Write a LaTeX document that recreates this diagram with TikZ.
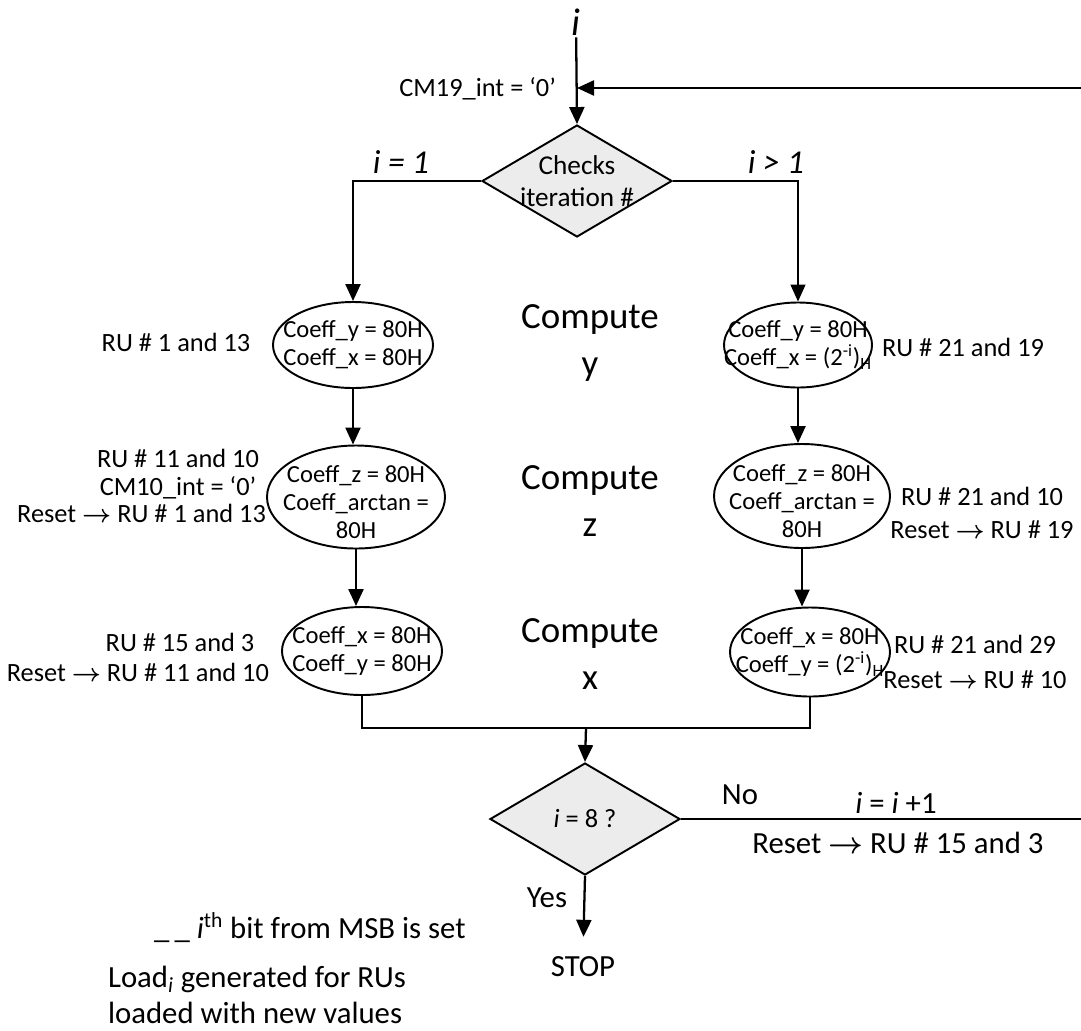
\documentclass[tikz,border=0pt]{standalone}
\usepackage{amsmath,amssymb}
\usepackage{fontspec}
\setmainfont{Carlito}
\usepackage{tikz}
\usetikzlibrary{arrows.meta,positioning,calc,shapes.geometric}
\newcommand{\toarr}{$\boldsymbol{\rightarrow}$}
\tikzset{
  cf/.style={draw, ellipse, line width=1.1pt, inner sep=0pt},
  cft/.style={font=\fontsize{14}{16}\selectfont, align=center, inner sep=0pt},
  chk/.style={draw, diamond, fill=gray!15, line width=1.1pt, inner sep=0pt, minimum width=38mm, minimum height=22.4mm},
  lbl/.style={font=\fontsize{15}{16}\selectfont, align=center, inner sep=1pt},
  cmp/.style={font=\fontsize{21}{26.5}\selectfont, align=center},
  big/.style={font=\fontsize{17.5}{20.5}\selectfont, inner sep=1pt},
  arr/.style={-{Triangle[length=3.4mm,width=3mm]}, line width=1.3pt},
  ln/.style={line width=1.3pt},
}
\begin{document}
\begin{tikzpicture}[x=0.2mm, y=-0.2mm]
\useasboundingbox (0,0) rectangle (1081,1030);
% entry and loop back
\node[font=\fontsize{22}{24}\selectfont\itshape, inner sep=1pt] (it) at (576,22) {i};
\node[chk, label={[font=\fontsize{15.5}{18}\selectfont, align=center]center:{Checks\\iteration \#}}] (chk) at (577,181) {};
\coordinate (fb) at (1081,88);
\node[font=\fontsize{15}{16}\selectfont, anchor=east, inner sep=1pt] (cm) at (558,89) {CM19\_int = `0'};
\draw[arr] (it) -- (chk.north);
\draw[arr] (fb) -- (fb -| chk.north);
\node[font=\fontsize{19}{20}\selectfont\itshape] (i1) at (401,162) {i = 1};
\node[font=\fontsize{19}{20}\selectfont\itshape] (i2) at (776,162) {i > 1};
% i = 1 column
\node[cf, minimum width=32mm, minimum height=17.2mm, label={[cft]center:{Coeff\_y = 80H\\Coeff\_x = 80H}}] (ey) at (353,345) {};
\node[cf, minimum width=35.6mm, minimum height=20.6mm, label={[cft, yshift=-1mm]center:{Coeff\_z = 80H\\Coeff\_arctan =\\80H}}] (ez) at (356,497) {};
\node[cf, minimum width=32mm, minimum height=17.6mm, label={[cft]center:{Coeff\_x = 80H\\Coeff\_y = 80H}}] (ex) at (362,651) {};
\node[lbl] (ry) at (176,342) {RU \# 1 and 13};
\node[lbl] (rz1) at (178,474) {RU \# 11 and 10\\CM10\_int = `0'};
\node[lbl, anchor=east] (rz2) at (268,513) {Reset \toarr{} RU \# 1 and 13};
\node[lbl] (rx1) at (180,642) {RU \# 15 and 3};
\node[lbl, anchor=east] (rx2) at (271,672) {Reset \toarr{} RU \# 11 and 10};
% i > 1 column
\node[cf, minimum width=29.6mm, minimum height=17mm, label={[cft]center:{Coeff\_y = 80H\\Coeff\_x = (2\textsuperscript{-i})\textsubscript{H}}}] (eyr) at (798,345) {};
\node[cf, minimum width=35.2mm, minimum height=20.8mm, label={[cft, yshift=-1mm]center:{Coeff\_z = 80H\\Coeff\_arctan =\\80H}}] (ezr) at (802,496) {};
\node[cf, minimum width=32mm, minimum height=17.8mm, label={[cft]center:{Coeff\_x = 80H\\Coeff\_y = (2\textsuperscript{-i})\textsubscript{H}}}] (exr) at (810,652) {};
\node[lbl] (ryr) at (963,347) {RU \# 21 and 19};
\node[lbl, font=\fontsize{15}{19}\selectfont] (rzr) at (982,513) {RU \# 21 and 10\\Reset \toarr{} RU \# 19};
\node[lbl, font=\fontsize{15}{20}\selectfont] (rxr) at (975,662) {RU \# 21 and 29\\Reset \toarr{} RU \# 10};
% phases
\node[cmp] (cy) at (590,343) {Compute\\y};
\node[cmp] (cz) at (590,501) {Compute\\z};
\node[cmp] (cx) at (590,654) {Compute\\x};
\draw[arr] (chk.west) -| (ey.north);
\draw[arr, line width=0.7pt] (chk.east) -| (eyr.north);
\draw[arr] (ey.south) -- (ey.south |- ez.north);
\draw[arr] (ez.south) -- (ez.south |- ex.north);
\draw[arr] (eyr.south) -- (eyr.south |- ezr.north);
\draw[arr] (ezr.south) -- (ezr.south |- exr.north);
% merge and end test
\coordinate (mrg) at (586,728);
\node[chk, minimum width=38mm, minimum height=22.4mm, label={[font=\fontsize{15}{16}\selectfont]center:{\textit{i} = 8 ?}}] (ok) at (585,819) {};
\draw[ln] (ex.south) |- (mrg) -| (exr.south);
\draw[arr] (mrg) -- (ok.north);
\node[big] (stop) at (583,967) {STOP};
\node[big] (yes) at (547,898) {Yes};
\draw[arr, shorten >=3.6mm] (ok.south) -- (stop.north);
\coordinate (lp) at (1081,819);
\draw[ln] (ok.east) -- (lp);
\node[big] (no) at (740,795) {No};
\node[big] (inc) at (896,803) {\textit{i} = \textit{i} +1};
\node[big] (rst) at (898,843) {Reset \toarr{} RU \# 15 and 3};
% legend
\node[big, anchor=west] (lg1) at (152,928) {\_\,\_ \textit{i}\textsuperscript{th} bit from MSB is set};
\node[big, anchor=west, align=left] (lg2) at (106,995) {Load\textsubscript{\textit{i}} generated for RUs\\loaded with new values};
\end{tikzpicture}
\end{document}
